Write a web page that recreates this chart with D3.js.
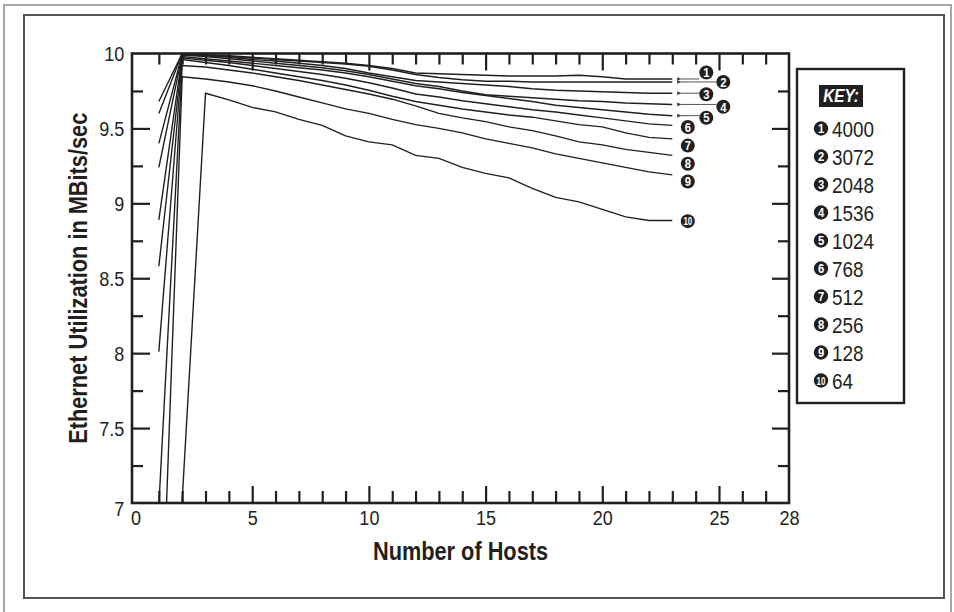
<!DOCTYPE html>
<html><head><meta charset="utf-8">
<script src="https://cdn.jsdelivr.net/npm/d3@7"></script>
<style>
body{margin:0;background:#fff}
svg{display:block}
text{font-family:"Liberation Sans","Arimo",Arial,sans-serif;fill:#231f20}
</style>
</head><body>
<svg id="c" width="954" height="612"></svg>
<script>
// ---------------- data ----------------
const hosts = [1,2,3,4,5,6,7,8,9,10,11,12,13,14,15,16,17,18,19,20,21,22,23];
const packetSizes = ["4000","3072","2048","1536","1024","768","512","256","128","64"];
const labelIds = ["1","2","3","4","5","6","7","8","9","10"];
const s4000 = [9.68,10.0,9.99,9.985,9.975,9.965,9.955,9.945,9.935,9.92,9.90,9.87,9.865,9.86,9.855,9.85,9.85,9.85,9.855,9.845,9.83,9.83,9.83];
const s3072 = [9.60,10.0,9.99,9.98,9.97,9.96,9.95,9.94,9.93,9.915,9.89,9.86,9.84,9.825,9.815,9.815,9.81,9.81,9.81,9.81,9.81,9.81,9.81];
const s2048 = [9.40,9.995,9.985,9.975,9.96,9.95,9.935,9.92,9.90,9.87,9.845,9.82,9.81,9.80,9.79,9.78,9.765,9.755,9.75,9.745,9.74,9.735,9.735];
const s1536 = [9.24,9.99,9.98,9.965,9.95,9.935,9.92,9.905,9.885,9.86,9.83,9.80,9.78,9.75,9.725,9.715,9.705,9.695,9.685,9.68,9.67,9.665,9.66];
const s1024 = [8.89,9.98,9.965,9.95,9.935,9.92,9.905,9.89,9.87,9.845,9.815,9.785,9.765,9.74,9.72,9.70,9.68,9.655,9.64,9.625,9.61,9.595,9.585];
const s768  = [8.58,9.97,9.955,9.94,9.92,9.90,9.88,9.86,9.835,9.805,9.77,9.73,9.71,9.685,9.665,9.645,9.625,9.61,9.59,9.57,9.55,9.53,9.52];
const s512  = [8.01,9.96,9.94,9.92,9.895,9.87,9.845,9.82,9.79,9.755,9.715,9.68,9.655,9.63,9.61,9.59,9.575,9.55,9.525,9.51,9.47,9.44,9.43];
const s256  = [6.98,9.92,9.91,9.89,9.87,9.845,9.82,9.79,9.76,9.73,9.695,9.65,9.60,9.57,9.545,9.51,9.485,9.45,9.41,9.39,9.36,9.34,9.32];
const s128  = [5.6,9.845,9.83,9.81,9.785,9.75,9.71,9.67,9.63,9.60,9.56,9.525,9.50,9.47,9.43,9.40,9.37,9.33,9.30,9.27,9.24,9.21,9.19];
const s64   = [4.2,7.02,9.735,9.69,9.64,9.61,9.56,9.52,9.45,9.41,9.39,9.32,9.30,9.24,9.20,9.17,9.10,9.04,9.01,8.96,8.91,8.885,8.885];
const allSeries = [s4000,s3072,s2048,s1536,s1024,s768,s512,s256,s128,s64];
const xMajorTicks = [5,10,15,20,25];
const xLabelTicks = [0,5,10,15,20,25,28];
const yLabelTicks = [7,7.5,8,8.5,9,9.5,10];
const xTitle = "Number of Hosts";
const yTitle = "Ethernet Utilization in MBits/sec";
const keyTitle = "KEY:";

// ---------------- layout ----------------
const svg = d3.select("#c");
const L = 132, R = 789, T = 53.5, B = 503;
const SX = 0.86; // horizontal condensing to mimic a condensed face
const x = d3.scaleLinear().domain([-0.15, 28]).range([L, R]);
const y = d3.scaleLinear().domain([7, 10]).range([B, T]);
const ink = "#231f20";

function ctext(g, tx, ty, str, o){
  const t = g.append("text")
    .attr("transform", `translate(${tx},${ty})${o.rotate ? ` rotate(${o.rotate})` : ""} scale(${o.sx || SX},1)`)
    .attr("text-anchor", o.anchor || "start").attr("dy", o.dy || "0.36em")
    .attr("font-size", o.size).text(str);
  if (o.bold) t.attr("font-weight","bold");
  if (o.italic) t.attr("font-style","italic");
  if (o.fill) t.style("fill", o.fill);
  return t;
}

// outer frames
svg.append("path").attr("d", "M4,612 V5 H951 V612").attr("fill","none").attr("stroke","#8a8a8a").attr("stroke-width",1.5);
svg.append("rect").attr("x",24).attr("y",15).attr("width",920).attr("height",583)
  .attr("fill","none").attr("stroke","#555").attr("stroke-width",2);

svg.append("clipPath").attr("id","pc").append("rect")
  .attr("x",L).attr("y",T).attr("width",R-L).attr("height",B-T);

// ticks via d3 axes
const xInts = d3.range(1,28);
const xMinor = xInts.filter(v => v % 5 !== 0);
const yQuarter = d3.range(7.25, 10, 0.25).map(v => +v.toFixed(2));
const yMinor = yQuarter.filter(v => Math.abs(v*2 - Math.round(v*2)) > 1e-6);
const yMajor = [7.5,8,8.5,9,9.5];

function styleTicks(g){ g.select(".domain").remove(); g.selectAll("line").attr("stroke",ink).attr("stroke-width",2.2); g.selectAll("text").remove(); }
svg.append("g").attr("transform",`translate(0,${B})`).call(d3.axisBottom(x).tickValues(xMinor).tickSize(-12)).call(styleTicks);
svg.append("g").attr("transform",`translate(0,${B})`).call(d3.axisBottom(x).tickValues(xMajorTicks).tickSize(-17)).call(styleTicks);
svg.append("g").attr("transform",`translate(0,${T})`).call(d3.axisTop(x).tickValues(xMinor).tickSize(-11)).call(styleTicks);
svg.append("g").attr("transform",`translate(0,${T})`).call(d3.axisTop(x).tickValues(xMajorTicks).tickSize(-17)).call(styleTicks);
svg.append("g").attr("transform",`translate(${L},0)`).call(d3.axisLeft(y).tickValues(yMinor).tickSize(-11)).call(styleTicks);
svg.append("g").attr("transform",`translate(${L},0)`).call(d3.axisLeft(y).tickValues(yMajor).tickSize(-18)).call(styleTicks);
svg.append("g").attr("transform",`translate(${R},0)`).call(d3.axisRight(y).tickValues(yMinor).tickSize(-11)).call(styleTicks);
svg.append("g").attr("transform",`translate(${R},0)`).call(d3.axisRight(y).tickValues(yMajor).tickSize(-17)).call(styleTicks);

// tick labels
const xl = svg.append("g").attr("transform",`translate(0,${B})`)
  .call(d3.axisBottom(x).tickValues(xLabelTicks).tickSize(0).tickPadding(7).tickFormat(d3.format("d")));
xl.select(".domain").remove();
xl.selectAll("text").attr("font-size",21).attr("fill",ink).style("font-family",'"Liberation Sans",Arial,sans-serif')
  .attr("transform",`scale(${SX},1)`);
const yl = svg.append("g").attr("transform",`translate(${L},0)`)
  .call(d3.axisLeft(y).tickValues(yLabelTicks).tickSize(0).tickPadding(9).tickFormat(d => String(d)));
yl.select(".domain").remove();
yl.selectAll("text").attr("font-size",21).attr("fill",ink).style("font-family",'"Liberation Sans",Arial,sans-serif')
  .attr("transform",`scale(${SX},1)`)
  .attr("dy", d => d === 7 ? "0.6em" : "0.34em");

// frame
svg.append("rect").attr("x",L).attr("y",T).attr("width",R-L).attr("height",B-T)
  .attr("fill","none").attr("stroke",ink).attr("stroke-width",2.6);

// lines
const line = d3.line().x((d,i) => x(hosts[i])).y(d => y(d));
svg.append("g").attr("clip-path","url(#pc)").selectAll("path").data(allSeries).join("path")
  .attr("d", line).attr("fill","none").attr("stroke",ink).attr("stroke-width",1.4).attr("stroke-linejoin","miter");

// end labels
const last = s => s[s.length-1];
const endX = x(hosts[hosts.length-1]);
function badge(g, cx, cy, txt, r){
  g.append("circle").attr("cx",cx).attr("cy",cy).attr("r",r).attr("fill",ink);
  ctext(g, cx, cy + 0.3, txt, {anchor:"middle", size: txt.length>1 ? 11 : 12.5, bold:true, fill:"#fff", sx: txt.length>1 ? 0.72 : 0.9});
}
const lab = svg.append("g");
const defs = svg.append("defs");
defs.append("marker").attr("id","ah").attr("viewBox","0 0 6 6").attr("refX",1).attr("refY",3)
  .attr("markerWidth",5).attr("markerHeight",5).attr("orient","auto")
  .append("path").attr("d","M6,0.8 L0,3 L6,5.2 Z").attr("fill","#444");
allSeries.forEach((s,i) => {
  const ey = y(last(s));
  if (i < 5) {
    const cx = (i % 2 === 0) ? endX + 34 : endX + 51;
    const cy = ey + [-6.5, 0, 1, 2.3, 2][i];
    lab.append("line").attr("x1", cx - 7).attr("y1", ey).attr("x2", endX + 9).attr("y2", ey)
      .attr("stroke","#555").attr("stroke-width",1).attr("marker-end","url(#ah)");
    badge(lab, cx, cy, labelIds[i], 7);
  } else {
    const cy = ey + [1.6, 6.7, 8.3, 6.6, 0.6][i-5];
    badge(lab, endX + 15.5, cy, labelIds[i], 7);
  }
});

// axis titles
ctext(svg, (L+R)/2, 551, xTitle, {anchor:"middle", size:25, bold:true, sx:0.87});
ctext(svg, 78, (T+B)/2, yTitle, {anchor:"middle", size:25, bold:true, sx:0.87, rotate:-90});

// key
const kx = 797, ky = 69;
svg.append("rect").attr("x",kx).attr("y",ky).attr("width",107).attr("height",334)
  .attr("fill","#fff").attr("stroke",ink).attr("stroke-width",2.4);
svg.append("rect").attr("x",819).attr("y",85).attr("width",44).attr("height",22).attr("fill",ink);
ctext(svg, 841, 96, keyTitle, {anchor:"middle", size:18, bold:true, italic:true, fill:"#fff", sx:0.85});
const key = svg.append("g");
packetSizes.forEach((p,i) => {
  const cy = 128.5 + i*28;
  badge(key, 821, cy, labelIds[i], 7.2);
  ctext(key, 832, cy + 0.5, p, {size:22, sx:0.86});
});
</script>
</body></html>
